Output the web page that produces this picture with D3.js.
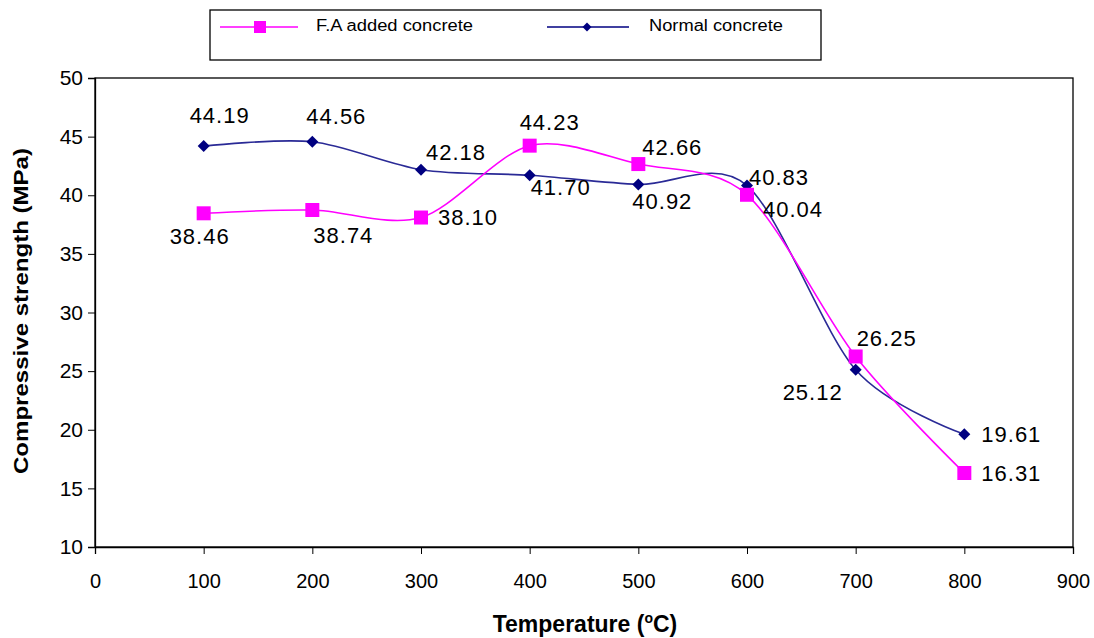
<!DOCTYPE html>
<html><head><meta charset="utf-8">
<script src="https://cdn.jsdelivr.net/npm/d3@7"></script>
<style>body{margin:0;background:#fff;} text{font-family:"Liberation Sans",Arial,sans-serif;}</style>
</head><body><svg id="c" width="1094" height="638"></svg>
<script>
const temps = [100, 200, 300, 400, 500, 600, 700, 800];
const faValues = [38.46, 38.74, 38.10, 44.23, 42.66, 40.04, 26.25, 16.31];
const normalValues = [44.19, 44.56, 42.18, 41.70, 40.92, 40.83, 25.12, 19.61];
const xTicks = [0, 100, 200, 300, 400, 500, 600, 700, 800, 900];
const yTicks = [10, 15, 20, 25, 30, 35, 40, 45, 50];
const seriesNames = ["F.A added concrete", "Normal concrete"];
// label offsets (px) relative to each point
const faLabelOffsets = [[-4,23],[31,25],[47,0],[20,-24],[34,-17],[46,14],[31,-18],[47,0]];
const normalLabelOffsets = [[16,-31],[24,-26],[35,-18],[31,12],[24,17],[32,-8],[-43,22],[47,0]];

const svg = d3.select("#c");
const L = 95, R = 1073, T = 78, B = 547;
const x = d3.scaleLinear().domain([0, 900]).range([L, R]);
const y = d3.scaleLinear().domain([10, 50]).range([B, T]);

// plot frame
svg.append("rect").attr("x", L).attr("y", T).attr("width", R - L).attr("height", B - T)
  .attr("fill", "none").attr("stroke", "#000").attr("stroke-width", 1.3);

const yAxis = svg.append("g").attr("transform", `translate(${L},0)`)
  .call(d3.axisLeft(y).tickValues(yTicks).tickSize(7).tickPadding(5));
yAxis.select(".domain").attr("stroke-width", 1.3);
yAxis.selectAll("text").attr("font-size", 21).attr("fill", "#000").attr("font-family", "Liberation Sans, Arial");

const xAxis = svg.append("g").attr("transform", `translate(0,${B})`)
  .call(d3.axisBottom(x).tickValues(xTicks).tickSize(7).tickPadding(20));
xAxis.select(".domain").attr("stroke-width", 1.3);
xAxis.selectAll("text").attr("font-size", 20).attr("fill", "#000").attr("font-family", "Liberation Sans, Arial");

// axis titles
svg.append("text").attr("transform", "translate(28,311) rotate(-90)").attr("text-anchor", "middle")
  .attr("font-size", 20).attr("font-weight", "bold")
  .attr("textLength", 326).attr("lengthAdjust", "spacingAndGlyphs")
  .text("Compressive strength (MPa)");
const xt = svg.append("text").attr("x", 585).attr("y", 632).attr("text-anchor", "middle")
  .attr("font-size", 23).attr("font-weight", "bold");
xt.append("tspan").text("Temperature (");
xt.append("tspan").attr("font-size", 14).attr("dy", -9).text("o");
xt.append("tspan").attr("dy", 9).text("C)");

const curve = d3.curveCardinal.tension(0.1);
const line = d3.line().x(d => x(d[0])).y(d => y(d[1])).curve(curve);

const faPts = temps.map((t, i) => [t, faValues[i]]);
const nPts = temps.map((t, i) => [t, normalValues[i]]);

svg.append("path").attr("d", line(nPts)).attr("fill", "none").attr("stroke", "#2a2a96").attr("stroke-width", 1.6);
svg.append("path").attr("d", line(faPts)).attr("fill", "none").attr("stroke", "#ff00ff").attr("stroke-width", 1.6);

const sq = d3.symbol().type(d3.symbolSquare).size(196);
const di = d3.symbol().type(d3.symbolSquare).size(72);

svg.selectAll(".nm").data(nPts).enter().append("path")
  .attr("d", di).attr("transform", d => `translate(${x(d[0])},${y(d[1])}) rotate(45)`).attr("fill", "#000080");
svg.selectAll(".fm").data(faPts).enter().append("path")
  .attr("d", sq).attr("transform", d => `translate(${x(d[0])},${y(d[1])})`).attr("fill", "#ff00ff");

function labels(pts, offs) {
  svg.append("g").selectAll("text").data(pts).enter().append("text")
    .attr("x", (d, i) => x(d[0]) + offs[i][0])
    .attr("y", (d, i) => y(d[1]) + offs[i][1])
    .attr("dy", "0.36em").attr("text-anchor", "middle").attr("font-size", 22)
    .attr("letter-spacing", 1).attr("fill", "#000")
    .text(d => d[1].toFixed(2));
}
labels(nPts, normalLabelOffsets);
labels(faPts, faLabelOffsets);

// legend
const lg = svg.append("g");
lg.append("rect").attr("x", 210).attr("y", 10).attr("width", 611).attr("height", 50)
  .attr("fill", "#fff").attr("stroke", "#000").attr("stroke-width", 1.3);
lg.append("line").attr("x1", 220).attr("x2", 298).attr("y1", 27).attr("y2", 27).attr("stroke", "#ff00ff").attr("stroke-width", 1.5);
lg.append("path").attr("d", d3.symbol().type(d3.symbolSquare).size(144)).attr("transform", "translate(260,27)").attr("fill", "#ff00ff");
lg.append("text").attr("x", 316).attr("y", 31).attr("font-size", 16).attr("fill", "#000")
  .attr("textLength", 157).attr("lengthAdjust", "spacingAndGlyphs").text(seriesNames[0]);
lg.append("line").attr("x1", 547).attr("x2", 629).attr("y1", 27).attr("y2", 27).attr("stroke", "#000080").attr("stroke-width", 1.5);
lg.append("path").attr("d", d3.symbol().type(d3.symbolSquare).size(40)).attr("transform", "translate(587,27) rotate(45)").attr("fill", "#000080");
lg.append("text").attr("x", 649).attr("y", 31).attr("font-size", 16).attr("fill", "#000")
  .attr("textLength", 134).attr("lengthAdjust", "spacingAndGlyphs").text(seriesNames[1]);
</script></body></html>
